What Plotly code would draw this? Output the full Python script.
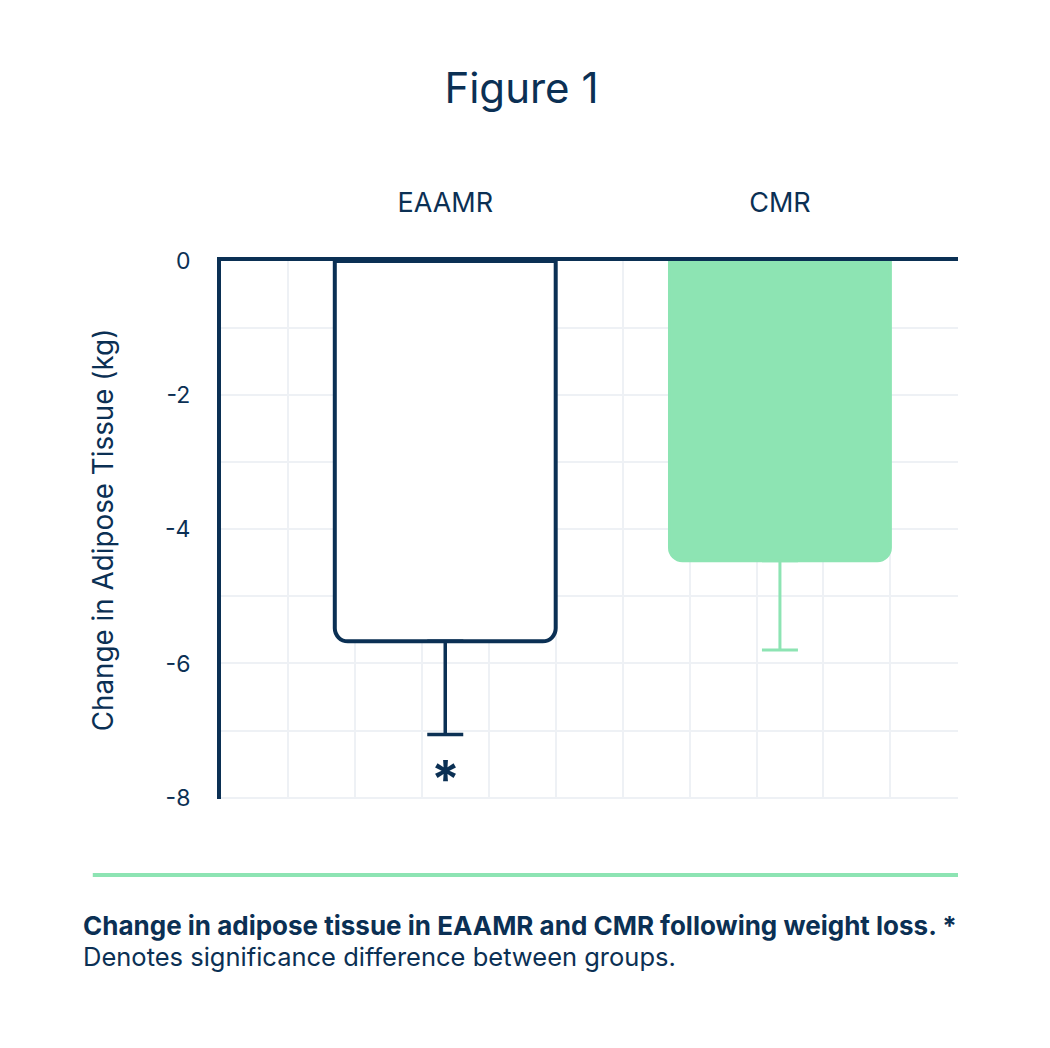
"""Figure 1: change in adipose tissue, EAAMR vs CMR."""

import plotly.graph_objects as go

NAVY = "#0b3054"
GREEN = "#8de4b3"
GRID = "#eef1f5"
FONT = "Inter"

groups = ["EAAMR", "CMR"]
group_pos = [0, 1]
change_kg = [-5.67, -4.47]
err_minus = [1.39, 1.33]
y_ticks = [0, -2, -4, -6, -8]
y_tick_text = ["0", "-2", "-4", "-6", "-8"]

fig = go.Figure()

fig.add_trace(
    go.Bar(
        x=[group_pos[0]],
        y=[change_kg[0]],
        width=0.66,
        marker=dict(color="white", line=dict(color=NAVY, width=4), cornerradius=13),
        error_y=dict(
            type="data",
            symmetric=False,
            array=[0],
            arrayminus=[err_minus[0]],
            color=NAVY,
            thickness=3.5,
            width=18,
        ),
        showlegend=False,
    )
)
fig.add_trace(
    go.Bar(
        x=[group_pos[1]],
        y=[change_kg[1]],
        width=0.66,
        marker=dict(color=GREEN, line=dict(color=GREEN, width=3), cornerradius=13),
        error_y=dict(
            type="data",
            symmetric=False,
            array=[0],
            arrayminus=[err_minus[1]],
            color=GREEN,
            thickness=3,
            width=18,
        ),
        showlegend=False,
    )
)

# significance marker under the EAAMR error bar
fig.add_annotation(
    x=group_pos[0],
    y=change_kg[0] - err_minus[0],
    text="<b>*</b>",
    showarrow=False,
    yanchor="top",
    yshift=-11,
    font=dict(family=FONT, size=52, color=NAVY),
)

# divider line above the caption
fig.add_shape(
    type="line",
    xref="paper",
    yref="paper",
    x0=-0.174,
    x1=1.0,
    y0=-0.1413,
    y1=-0.1413,
    line=dict(color=GREEN, width=4),
)
fig.add_annotation(
    xref="paper",
    yref="paper",
    x=-0.1905,
    y=-0.236,
    xanchor="left",
    yanchor="middle",
    text="<b>Change in adipose tissue in EAAMR and CMR following weight loss. *</b>",
    showarrow=False,
    font=dict(family=FONT, size=26, color=NAVY),
)
fig.add_annotation(
    xref="paper",
    yref="paper",
    x=-0.1905,
    y=-0.2935,
    xanchor="left",
    yanchor="middle",
    text="Denotes significance difference between groups.",
    showarrow=False,
    font=dict(family=FONT, size=25.5, color=NAVY),
)

fig.update_layout(
    width=1050,
    height=1048,
    margin=dict(l=213, r=100, t=253, b=257),
    paper_bgcolor="white",
    plot_bgcolor="white",
    font=dict(family=FONT, color=NAVY),
    title=dict(
        text="Figure 1",
        x=0.489,
        xanchor="center",
        y=1 - 80 / 1048,
        yanchor="middle",
        font=dict(family=FONT, size=42, color=NAVY),
    ),
    xaxis=dict(
        range=[-0.67, 1.532],
        side="top",
        tickmode="array",
        tickvals=group_pos,
        ticktext=groups,
        ticks="",
        ticklabelstandoff=34,
        tickfont=dict(family=FONT, size=27, color=NAVY),
        showgrid=False,
        zeroline=False,
        showline=True,
        linecolor=NAVY,
        linewidth=4,
        minor=dict(tickmode="linear", tick0=-0.67, dtick=0.2, showgrid=True,
                   gridcolor=GRID, gridwidth=2),
    ),
    yaxis=dict(
        range=[-8.02, 0],
        tickmode="array",
        tickvals=y_ticks,
        ticktext=y_tick_text,
        ticks="",
        ticklabelstandoff=22,
        tickfont=dict(family=FONT, size=23, color=NAVY),
        showgrid=True,
        gridcolor=GRID,
        gridwidth=2,
        zeroline=False,
        showline=True,
        linecolor=NAVY,
        linewidth=4,
        minor=dict(tickmode="linear", tick0=0, dtick=1, showgrid=True,
                   gridcolor=GRID, gridwidth=2),
        title=dict(
            text="Change in Adipose Tissue (kg)",
            standoff=44,
            font=dict(family=FONT, size=27.8, color=NAVY),
        ),
    ),
)

fig.write_html("out.html")
